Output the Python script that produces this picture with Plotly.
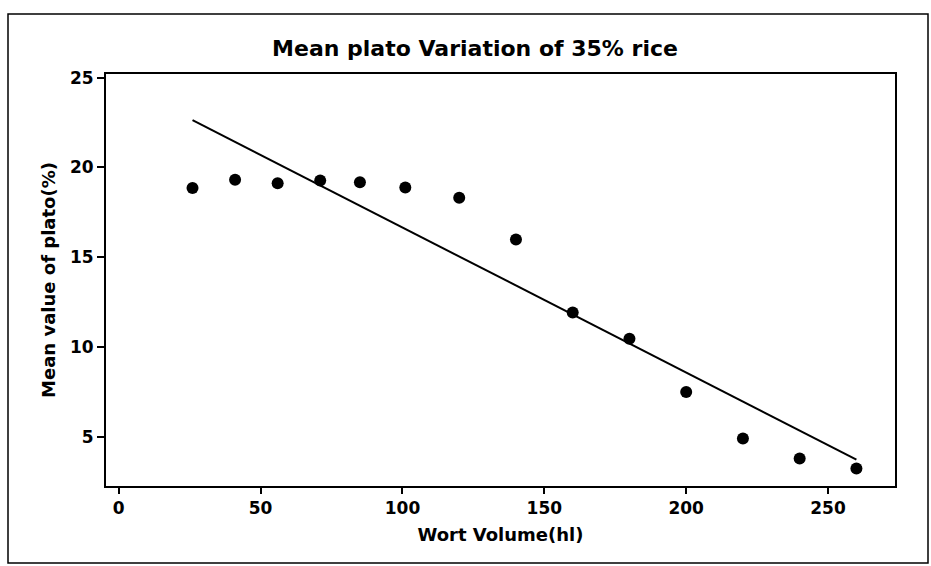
import plotly.graph_objects as go

# Data
wort_volume = [26, 41, 56, 71, 85, 101, 120, 140, 160, 180, 200, 220, 240, 260]
mean_plato = [18.86, 19.32, 19.12, 19.27, 19.17, 18.88, 18.31, 15.99, 11.93, 10.47, 7.5, 4.91, 3.8, 3.24]
fit_x = [26, 260]
fit_y = [22.63, 3.74]
x_ticks = [0, 50, 100, 150, 200, 250]
y_ticks = [5, 10, 15, 20, 25]

FONT = "DejaVu Sans"

fig = go.Figure()
fig.add_trace(go.Scatter(x=fit_x, y=fit_y, mode="lines",
                         line=dict(color="black", width=2), showlegend=False))
fig.add_trace(go.Scatter(x=wort_volume, y=mean_plato, mode="markers",
                         marker=dict(color="black", size=12), showlegend=False))

L, R, T, B = 106, 36, 74, 80
W, H = 931, 566
pw, ph = W - L - R, H - T - B

fig.update_layout(
    width=W, height=H,
    margin=dict(l=L, r=R, t=T, b=B),
    paper_bgcolor="white", plot_bgcolor="white",
    font=dict(family=FONT, color="black"),
    title=dict(text="<b>Mean plato Variation of 35% rice</b>",
               x=475 / W, xanchor="center",
               y=1 - 48 / H, yanchor="middle",
               font=dict(family=FONT, size=22, color="black")),
    xaxis=dict(range=[-4.5, 273.6], tickvals=x_ticks,
               ticktext=[f"<b>{v}</b>" for v in x_ticks],
               showgrid=False, zeroline=False,
               showline=True, linecolor="black", linewidth=2, mirror=True,
               ticks="outside", ticklen=6, tickwidth=1.5, tickcolor="black",
               tickfont=dict(family=FONT, size=17, color="black"),
               title=dict(text="<b>Wort Volume(hl)</b>", standoff=11,
                          font=dict(family=FONT, size=18, color="black"))),
    yaxis=dict(range=[2.27, 25.2], tickvals=y_ticks,
               ticktext=[f"<b>{v}</b>" for v in y_ticks],
               showgrid=False, zeroline=False,
               showline=True, linecolor="black", linewidth=2, mirror=True,
               ticks="outside", ticklen=7, tickwidth=1.5, tickcolor="black",
               tickfont=dict(family=FONT, size=17, color="black"),
               title=dict(text="<b>Mean value of plato(%)</b>", standoff=10,
                          font=dict(family=FONT, size=18, color="black"))),
)

# outer frame of the figure
fig.add_shape(type="rect", xref="paper", yref="paper",
              x0=(8 - L) / pw, x1=(928 - L) / pw,
              y0=(H - B - 563) / ph, y1=(H - B - 14) / ph,
              line=dict(color="black", width=1.5), fillcolor="rgba(0,0,0,0)",
              layer="below")

fig.write_html("out.html")
